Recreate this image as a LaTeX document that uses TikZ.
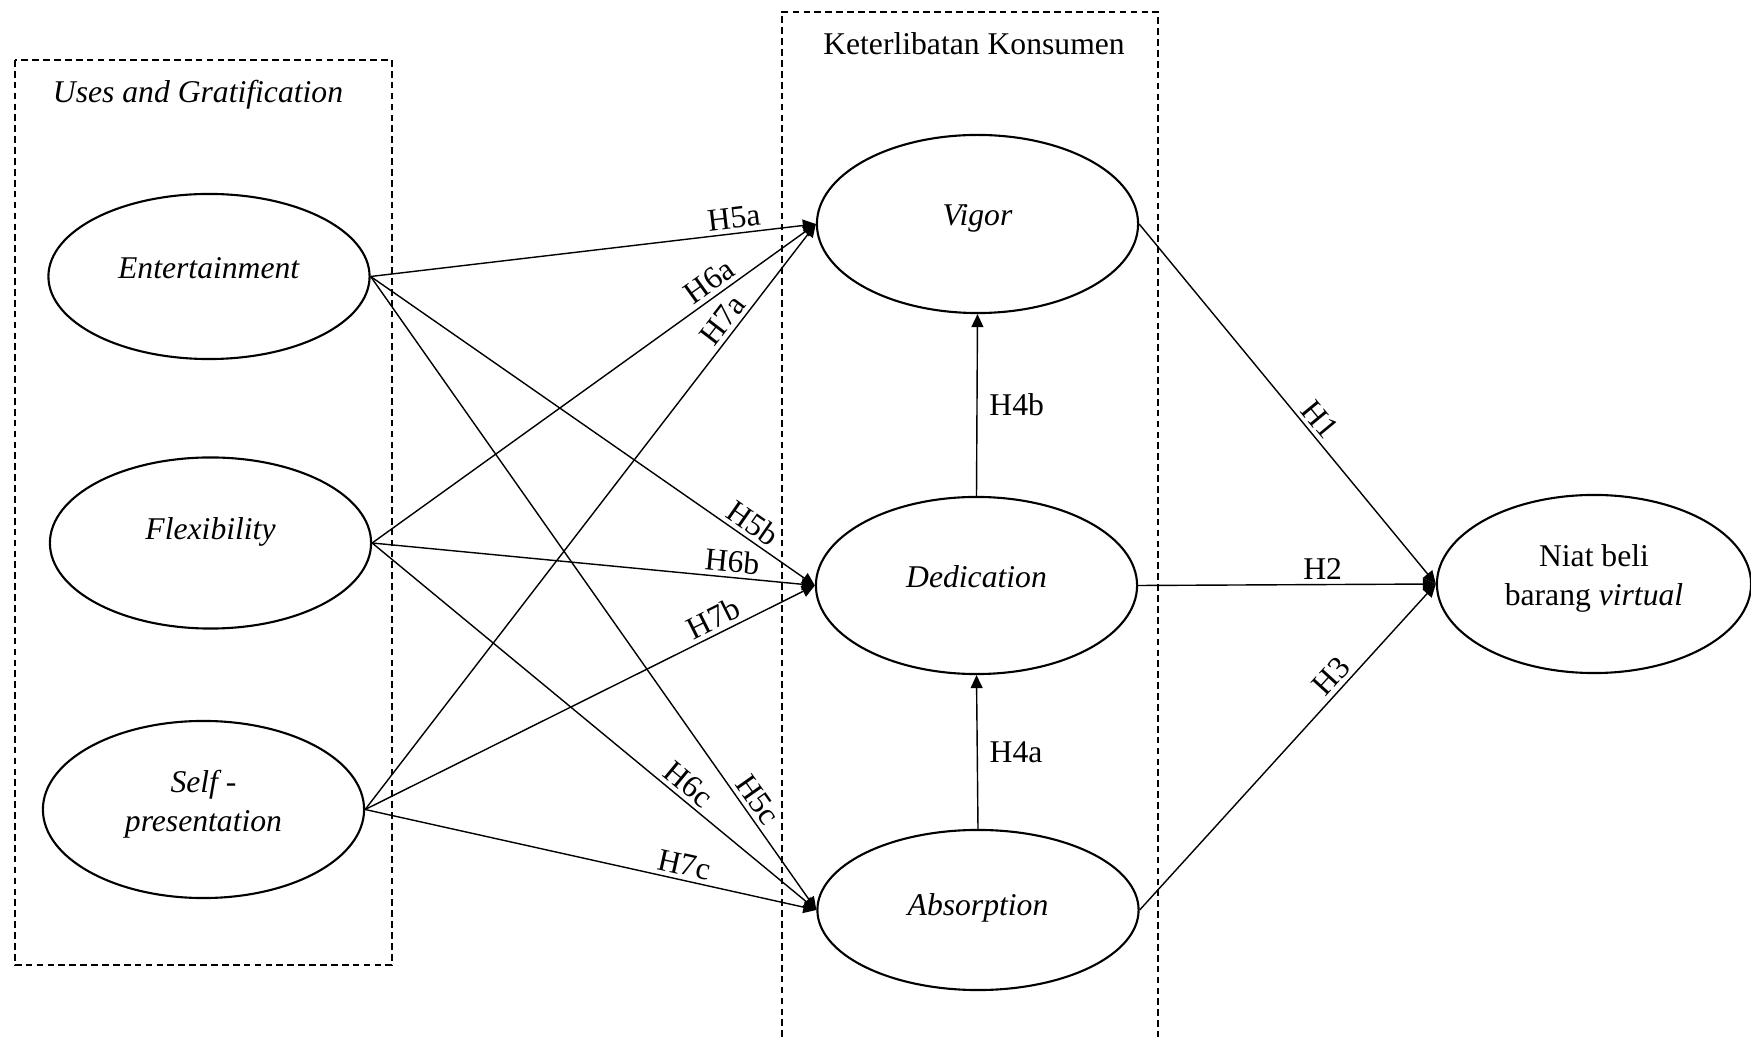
\documentclass[tikz,border=0pt]{standalone}
\usepackage{fontspec}
\setmainfont{Liberation Serif}
\usetikzlibrary{shapes.geometric,arrows.meta}

\begin{document}
\begin{tikzpicture}[x=0.01cm, y=-0.01cm,
    font=\fontsize{9}{11}\selectfont,
    var/.style={ellipse, draw, line width=0.6pt, minimum width=3.21cm,
      inner sep=0pt, align=center, text depth=5pt},
    group/.style={line width=0.6pt, dash pattern=on 1.9pt off 1.2pt},
    arr/.style={line width=0.4pt, -{Triangle[length=3.7pt,width=3.4pt]}},
    hyp/.style={inner sep=1.2pt}]
  \useasboundingbox (0,0) rectangle (1751,1037);
  % Kotak kelompok
  \draw[group] (15,60) rectangle (392,965);
  \draw[group] (782,1037) |- (1158,12) -- (1158,1037);
  \node (ugtitle) at (198,95) {\textit{Uses and Gratification}};
  \node (kktitle) at (974,44) {Keterlibatan Konsumen};
  % Variabel
  \node[var, minimum height=1.65cm] (ent) at (209,276.5) {\textit{Entertainment}};
  \node[var, minimum height=1.71cm, text depth=8pt] (flex) at (210.5,543) {\textit{Flexibility}};
  \node[var, minimum height=1.77cm] (self) at (203.5,809.5) {\textit{Self -}\\\textit{presentation}};
  \node[var, minimum height=1.78cm] (vigor) at (977.5,224) {\textit{Vigor}};
  \node[var, minimum height=1.77cm] (dedic) at (976.5,585.5) {\textit{Dedication}};
  \node[var, minimum height=1.6cm, text depth=3pt] (absorp) at (978,910) {\textit{Absorption}};
  \node[var, minimum width=3.14cm, minimum height=1.78cm] (niat) at (1594,584) {Niat beli\\barang \textit{virtual}};
  % Hipotesis H5 - H7
  \draw[arr] (ent.east) -- (vigor.west) node[hyp, pos=.82, above, sloped] (h5a) {H5a};
  \draw[arr] (ent.east) -- (dedic.west) node[hyp, pos=.84, above, sloped] (h5b) {H5b};
  \draw[arr] (ent.east) -- (absorp.west) node[hyp, pos=.84, above, sloped] (h5c) {H5c};
  \draw[arr] (flex.east) -- (vigor.west) node[hyp, pos=.78, above, sloped] (h6a) {H6a};
  \draw[arr] (flex.east) -- (dedic.west) node[hyp, pos=.81, above, sloped] (h6b) {H6b};
  \draw[arr] (flex.east) -- (absorp.west) node[hyp, pos=.69, above, sloped] (h6c) {H6c};
  \draw[arr] (self.east) -- (vigor.west) node[hyp, pos=.82, above, sloped] (h7a) {H7a};
  \draw[arr] (self.east) -- (dedic.west) node[hyp, pos=.79, above, sloped] (h7b) {H7b};
  \draw[arr] (self.east) -- (absorp.west) node[hyp, pos=.7, above, sloped] (h7c) {H7c};
  % Hipotesis H4
  \draw[arr] (dedic.north) -- (vigor.south) node[midway, right] (h4b) {H4b};
  \draw[arr] (absorp.north) -- (dedic.south) node[midway, right] (h4a) {H4a};
  % Hipotesis H1 - H3
  \draw[arr] (vigor.east) -- (niat.west) node[hyp, pos=.57, above, sloped] (h1) {H1};
  \draw[arr] (dedic.east) -- (niat.west) node[hyp, pos=.62, above] (h2) {H2};
  \draw[arr] (absorp.east) -- (niat.west) node[hyp, pos=.686, above, sloped] (h3) {H3};
\end{tikzpicture}
\end{document}
